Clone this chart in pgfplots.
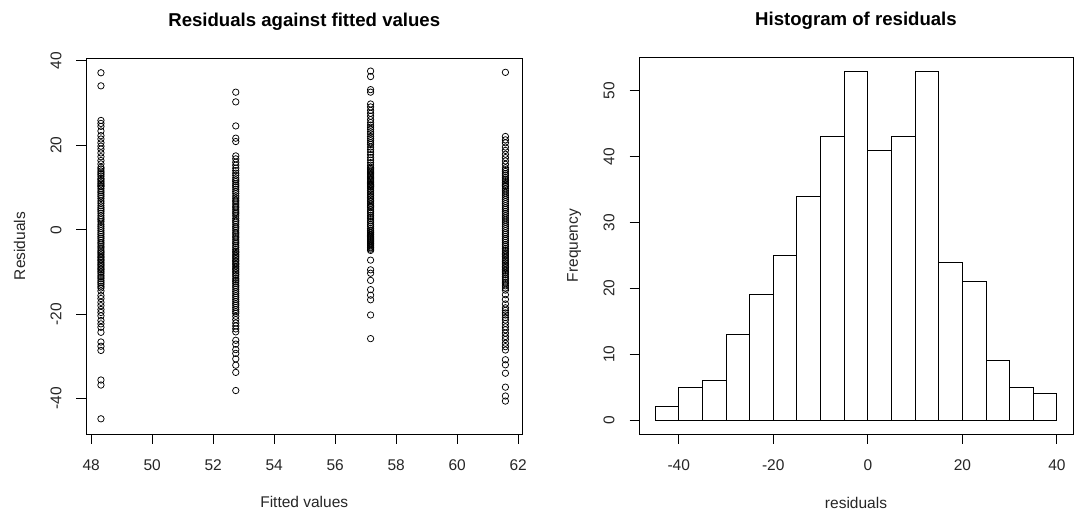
\documentclass[border=0pt]{standalone}
\usepackage{pgfplots}
\pgfplotsset{compat=1.18}
\usepackage{pgfplotstable}
\usepackage{fontspec}
\setmainfont{Liberation Sans}

% residuals of the four groups (fitted values 48.32, 52.74, 57.16, 61.58)
\pgfplotstableread[row sep=\\]{r\\37.2\\34.1\\25.9\\25.2\\24.5\\23.4\\22.3\\21.5\\20.6\\19.8\\19.1\\18.2\\17.3\\16.4\\15.6\\14.8\\14.4\\13.9\\13.5\\13.1\\12.7\\12.2\\11.9\\11.5\\11.1\\10.8\\10.4\\10.2\\9.7\\9.2\\8.8\\8.3\\7.9\\7.4\\6.8\\6.3\\5.7\\5.2\\4.8\\4.4\\3.9\\3.3\\2.8\\2.4\\1.9\\1.3\\0.8\\0.3\\-0.2\\-0.7\\-1.1\\-1.6\\-2.0\\-2.5\\-3.0\\-3.4\\-3.9\\-4.3\\-4.8\\-5.2\\-5.5\\-5.9\\-6.3\\-6.6\\-7.0\\-7.3\\-7.7\\-8.1\\-8.4\\-8.8\\-9.2\\-9.5\\-9.9\\-10.3\\-10.8\\-11.2\\-11.6\\-12.1\\-12.5\\-12.9\\-13.4\\-13.8\\-14.5\\-15.6\\-16.3\\-17.2\\-18.0\\-18.9\\-19.6\\-20.4\\-21.5\\-22.3\\-23.1\\-24.3\\-26.6\\-27.6\\-28.6\\-35.6\\-36.8\\-44.8\\}\resA
\pgfplotstableread[row sep=\\]{r\\32.6\\30.3\\24.6\\21.7\\20.9\\17.5\\16.8\\16.0\\15.3\\14.6\\14.0\\13.4\\12.9\\12.3\\11.8\\11.4\\10.9\\10.5\\10.1\\9.6\\9.1\\8.6\\8.0\\7.5\\7.0\\6.6\\6.1\\5.6\\5.2\\4.7\\4.2\\3.8\\3.3\\2.7\\2.2\\1.8\\1.3\\0.8\\0.4\\-0.1\\-0.6\\-1.0\\-1.5\\-1.9\\-2.4\\-2.9\\-3.3\\-3.8\\-4.2\\-4.7\\-5.1\\-5.4\\-5.8\\-6.2\\-6.5\\-6.9\\-7.3\\-7.6\\-8.0\\-8.3\\-8.7\\-9.1\\-9.4\\-9.8\\-10.2\\-10.6\\-11.0\\-11.5\\-11.9\\-12.3\\-12.7\\-13.2\\-13.6\\-14.1\\-14.6\\-15.1\\-15.6\\-16.0\\-16.5\\-17.0\\-17.5\\-17.9\\-18.4\\-18.9\\-19.4\\-19.8\\-20.5\\-21.3\\-22.1\\-22.8\\-23.5\\-24.2\\-26.2\\-27.1\\-28.4\\-29.3\\-30.6\\-32.1\\-33.8\\-38.1\\}\resB
\pgfplotstableread[row sep=\\]{r\\37.6\\36.3\\33.2\\32.6\\29.8\\29.1\\28.3\\27.6\\26.9\\26.1\\25.4\\24.8\\24.3\\23.8\\23.2\\22.7\\22.1\\21.6\\21.1\\20.6\\20.2\\19.6\\19.0\\18.4\\17.8\\17.1\\16.5\\15.9\\15.3\\14.8\\14.5\\14.2\\13.9\\13.6\\13.3\\13.0\\12.7\\12.4\\12.1\\11.8\\11.5\\11.2\\10.9\\10.7\\10.5\\10.3\\10.1\\9.7\\9.3\\8.9\\8.5\\8.1\\7.7\\7.3\\6.9\\6.6\\6.2\\5.8\\5.5\\5.2\\4.7\\4.3\\3.9\\3.4\\3.0\\2.6\\2.1\\1.7\\1.2\\0.8\\0.3\\-0.1\\-0.3\\-0.6\\-0.8\\-1.1\\-1.3\\-1.6\\-1.8\\-2.1\\-2.3\\-2.6\\-2.8\\-3.1\\-3.3\\-3.6\\-3.8\\-4.1\\-4.3\\-4.6\\-4.9\\-7.2\\-9.5\\-10.3\\-12.0\\-14.2\\-15.5\\-16.6\\-20.2\\-25.8\\}\resC
\pgfplotstableread[row sep=\\]{r\\37.3\\22.1\\21.3\\20.6\\19.6\\18.8\\17.9\\17.1\\16.3\\15.5\\14.7\\14.2\\13.8\\13.3\\12.9\\12.4\\12.0\\11.6\\11.2\\10.8\\10.5\\10.2\\9.7\\9.2\\8.7\\8.2\\7.7\\7.2\\6.7\\6.2\\5.7\\5.2\\4.8\\4.3\\3.8\\3.3\\2.8\\2.3\\1.8\\1.3\\0.8\\0.3\\-0.2\\-0.7\\-1.1\\-1.6\\-2.1\\-2.5\\-3.0\\-3.5\\-3.9\\-4.4\\-4.8\\-5.2\\-5.6\\-5.9\\-6.3\\-6.7\\-7.1\\-7.5\\-7.9\\-8.3\\-8.7\\-9.0\\-9.4\\-9.8\\-10.2\\-10.6\\-11.1\\-11.5\\-11.9\\-12.4\\-12.8\\-13.3\\-13.8\\-14.3\\-15.4\\-16.5\\-17.6\\-18.5\\-19.1\\-19.7\\-20.2\\-20.8\\-21.4\\-22.2\\-23.0\\-23.7\\-24.5\\-25.3\\-26.0\\-26.9\\-27.7\\-28.5\\-30.8\\-32.0\\-34.0\\-37.3\\-39.4\\-40.6\\}\resD

\pgfplotsset{
  rstyle/.style={
    scale only axis, anchor=south west,
    axis line style={line width=0.9bp, black},
    tick style={line width=0.9bp, black},
    tick align=outside, major tick length=9.5bp,
    xtick pos=left, ytick pos=left,
    /pgf/number format/assume math mode=true,
    every tick label/.append style={font=\fontsize{15.5bp}{18bp}\selectfont, text=black!85},
    xticklabel style={yshift=-15.5bp, anchor=north, inner sep=0pt, text height=11.2bp, text depth=0pt},
    yticklabel style={xshift=-15bp, rotate=90, anchor=south, inner sep=0pt, text height=11.2bp, text depth=0pt},
    title style={font=\bfseries\fontsize{18.6bp}{22bp}\selectfont, anchor=base, inner sep=0pt},
    xlabel style={font=\fontsize{15.5bp}{18bp}\selectfont, anchor=base, inner sep=0pt, text=black!85},
    ylabel style={font=\fontsize{15.5bp}{18bp}\selectfont, anchor=base, inner sep=0pt, text=black!85},
  }
}

\begin{document}
\begin{tikzpicture}
\useasboundingbox (0,0) rectangle (1074bp,511bp);
\begin{axis}[rstyle,
  at={(86bp,77bp)}, width=436.5bp, height=376bp,
  xmin=47.83, xmax=62.14, ymin=-48.4, ymax=40.7,
  xtick={48,50,...,62}, ytick={-40,-20,0,20,40},
  title={Residuals against fitted values},
  title style={at={(axis description cs:0.5,1.0678)}},
  xlabel={Fitted values},
  xlabel style={at={(axis description cs:0.5,-0.1968)}},
  ylabel={Residuals},
  ylabel style={at={(axis description cs:-0.1397,0.5)}},
]
\addplot[only marks, mark=o, mark size=3.2bp, mark options={line width=0.75bp, black}] table[x expr=48.32, y=r] {\resA};
\addplot[only marks, mark=o, mark size=3.2bp, mark options={line width=0.75bp, black}] table[x expr=52.74, y=r] {\resB};
\addplot[only marks, mark=o, mark size=3.2bp, mark options={line width=0.75bp, black}] table[x expr=57.16, y=r] {\resC};
\addplot[only marks, mark=o, mark size=3.2bp, mark options={line width=0.75bp, black}] table[x expr=61.58, y=r] {\resD};
\end{axis}

\begin{axis}[rstyle,
  at={(639bp,77bp)}, width=434bp, height=377bp,
  xmin=-48.4, xmax=43.4, ymin=-2.12, ymax=55.12,
  xtick={-40,-20,0,20,40}, ytick={0,10,...,50},
  title={Histogram of residuals},
  title style={at={(axis description cs:0.5,1.0676)}},
  xlabel={residuals},
  xlabel style={at={(axis description cs:0.5,-0.1963)}},
  ylabel={Frequency},
  ylabel style={at={(axis description cs:-0.1406,0.5)}},
]
\addplot[ybar interval, fill=white, draw=black, line width=0.9bp] coordinates {
(-45,2) (-40,5) (-35,6) (-30,13) (-25,19) (-20,25) (-15,34) (-10,43) (-5,53)
(0,41) (5,43) (10,53) (15,24) (20,21) (25,9) (30,5) (35,4) (40,0)};
\end{axis}
\end{tikzpicture}
\end{document}
